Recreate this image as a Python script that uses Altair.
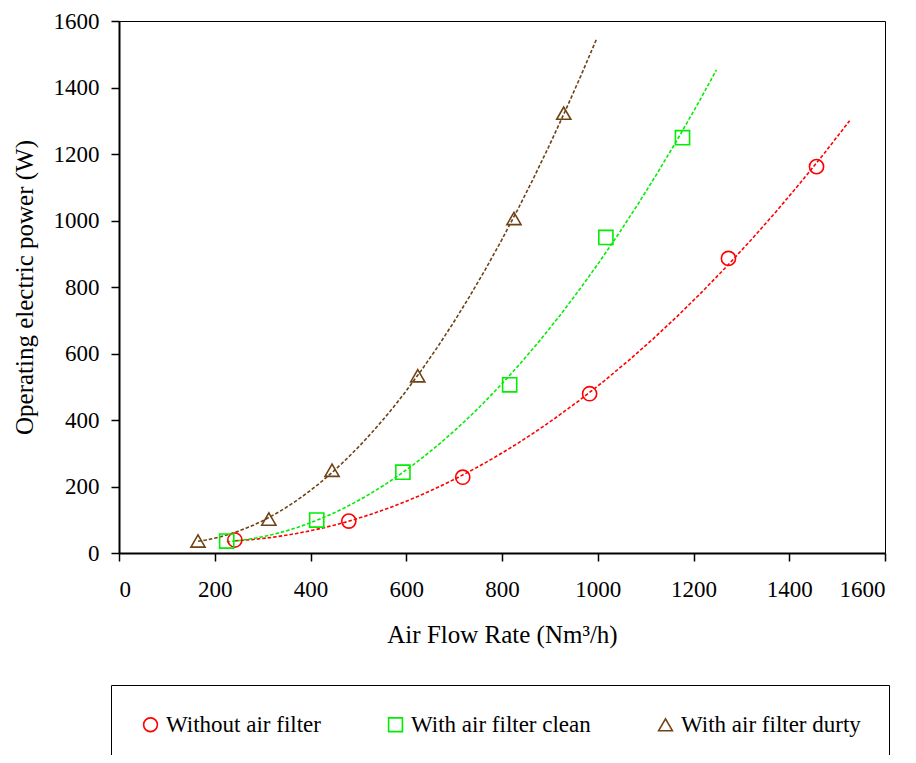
import altair as alt
import pandas as pd

series_names = ["Without air filter", "With air filter clean", "With air filter durty"]
series_colors = ["#FF0000", "#00EE00", "#6E4215"]
series_shapes = ["circle", "square", "triangle-up"]

flow_without = [242, 480, 718, 983, 1273, 1457]
power_without = [39, 96, 228, 479, 886, 1162]
flow_clean = [225, 413, 593, 816, 1017, 1177]
power_clean = [36, 99, 243, 506, 949, 1249]
flow_dirty = [165, 313, 445, 624, 825, 929]
power_dirty = [36, 102, 249, 533, 1006, 1323]

# trendline forecast end (x) per series
trend_end = [1526, 1248, 998]

flows = [flow_without, flow_clean, flow_dirty]
powers = [power_without, power_clean, power_dirty]

rows = []
for name, fl, pw in zip(series_names, flows, powers):
    for f, p in zip(fl, pw):
        rows.append({"series": name, "flow": f, "power": p})
df = pd.DataFrame(rows)

font = "Liberation Serif"

color_scale = alt.Scale(domain=series_names, range=series_colors)
shape_scale = alt.Scale(domain=series_names, range=series_shapes)

x_enc = alt.X("flow:Q", scale=alt.Scale(domain=[0, 1600], nice=False),
              axis=alt.Axis(values=list(range(0, 1601, 200)), title="Air Flow Rate (Nm³/h)",
                            format="d", grid=False, labelPadding=17, titlePadding=21))
y_enc = alt.Y("power:Q", scale=alt.Scale(domain=[0, 1600], nice=False),
              axis=alt.Axis(values=list(range(0, 1601, 200)), title="Operating electric power (W)",
                            format="d", grid=False, labelPadding=12, titlePadding=16))

base = alt.Chart(df)

lines = []
for name, fl, end, col in zip(series_names, flows, trend_end, series_colors):
    ln = base.transform_filter(alt.datum.series == name).transform_regression(
        "flow", "power", method="poly", order=2, extent=[min(fl), end]
    ).mark_line(strokeWidth=1.6, strokeDash=[3.5, 2], clip=True, color=col).encode(
        x=x_enc, y=y_enc,
    )
    lines.append(ln)

legend = alt.Legend(title=None, orient="none", legendX=-8, legendY=664,
                    direction="horizontal", columns=3,
                    strokeColor="#000000", padding=28,
                    labelFont=font, labelFontSize=23, labelColor="#000000", labelLimit=400,
                    symbolSize=190, symbolStrokeWidth=1.6,
                    columnPadding=63, labelOffset=4)

points = base.mark_point(filled=False, strokeWidth=1.6, size=200, opacity=1).encode(
    x=x_enc, y=y_enc,
    color=alt.Color("series:N", scale=color_scale, legend=legend),
    shape=alt.Shape("series:N", scale=shape_scale, legend=legend),
)

chart = alt.layer(*lines, points).properties(
    width=766, height=532,
    autosize=alt.AutoSizeParams(type="none"),
    padding={"left": 111, "top": 13, "right": 20, "bottom": 202},
    background="white",
).configure_view(
    stroke="#000000", strokeWidth=1
).configure_axis(
    domainColor="#000000", domainWidth=2, tickColor="#000000", tickWidth=1.5, tickSize=8,
    labelFont=font, labelFontSize=23, labelColor="#000000",
    titleFont=font, titleFontSize=25, titleFontWeight="normal", titleColor="#000000",
)

chart.save("out.html", embed_options={"renderer": "svg", "actions": False})
